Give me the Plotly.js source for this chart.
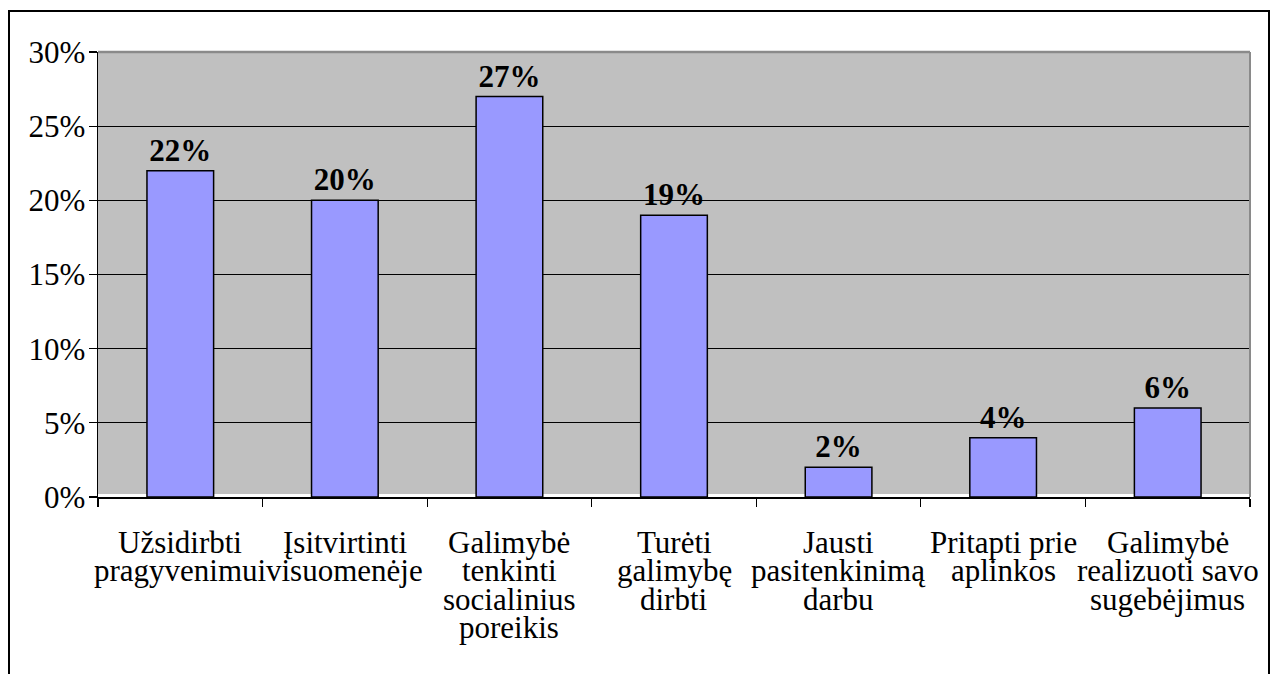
<!DOCTYPE html>
<html>
<head>
<meta charset="utf-8">
<script src="https://cdn.plot.ly/plotly-3.0.1.min.js"></script>
<style>
  html, body { margin: 0; padding: 0; background: #ffffff; }
  #wrap { position: relative; width: 1274px; height: 674px; }
  #chart { position: absolute; left: 0; top: 0; width: 1274px; height: 674px; }
  #frame { position: absolute; left: 8px; top: 10px; width: 1258px; height: 700px;
           border: 2.5px solid #000; pointer-events: none; }
</style>
</head>
<body>
<div id="wrap">
  <div id="chart"></div>
  <div id="frame"></div>
</div>
<script>
const categories = [
  "Užsidirbti\npragyvenimui",
  "Įsitvirtinti\nvisuomenėje",
  "Galimybė\ntenkinti\nsocialinius\nporeikis",
  "Turėti\ngalimybę\ndirbti",
  "Jausti\npasitenkinimą\ndarbu",
  "Pritapti prie\naplinkos",
  "Galimybė\nrealizuoti savo\nsugebėjimus"
];
const values = [22, 20, 27, 19, 2, 4, 6];
const yTicks = [0, 5, 10, 15, 20, 25, 30];

const FONT = "'Liberation Serif', 'Times New Roman', serif";
const catIds = categories.map((c, i) => "c" + i);

const trace = {
  type: "bar",
  x: catIds,
  y: values,
  marker: { color: "#9999FF", line: { color: "#000000", width: 1.5 } },
  text: values.map(v => v + "%"),
  textposition: "outside",
  textfont: { family: FONT, size: 31, color: "#000000", weight: "bold" },
  texttemplate: "<b>%{text}</b>",
  cliponaxis: false,
  hoverinfo: "none"
};

// Category label lines as annotations (tight line spacing like the original)
const annotations = [];
categories.forEach((label, i) => {
  label.split("\n").forEach((line, j) => {
    annotations.push({
      x: catIds[i], xref: "x",
      y: 0, yref: "paper",
      yanchor: "middle", xanchor: "center",
      yshift: -45.5 - 28.4 * j,
      text: line,
      showarrow: false,
      font: { family: FONT, size: 31, color: "#000000" }
    });
  });
});

const layout = {
  width: 1274, height: 674,
  margin: { l: 98, r: 24, t: 52, b: 177, pad: 0 },
  paper_bgcolor: "#ffffff",
  plot_bgcolor: "#C0C0C0",
  showlegend: false,
  bargap: 0.595,
  font: { family: FONT, color: "#000000" },
  xaxis: {
    type: "category",
    range: [-0.5, 6.5],
    autorange: false,
    showticklabels: false,
    ticks: "outside", tickson: "boundaries", ticklen: 8, tickwidth: 1.2, tickcolor: "#000000",
    showline: true, linecolor: "#000000", linewidth: 1.5,
    showgrid: false, zeroline: false, fixedrange: true
  },
  yaxis: {
    range: [0, 30],
    autorange: false,
    tickvals: yTicks,
    ticktext: yTicks.map(v => v + "%"),
    ticks: "outside", ticklen: 8, tickwidth: 1.2, tickcolor: "#000000",
    ticklabelstandoff: -3,
    tickfont: { family: FONT, size: 31, color: "#000000" },
    showline: true, linecolor: "#000000", linewidth: 1.5,
    showgrid: true, gridcolor: "#000000", gridwidth: 1,
    zeroline: false, fixedrange: true
  },
  annotations: annotations,
  shapes: [
    { type: "line", xref: "paper", yref: "paper", x0: 0, x1: 1, y0: 1, y1: 1,
      line: { color: "#8a8a8a", width: 2.5 }, layer: "above" },
    { type: "line", xref: "paper", yref: "paper", x0: 1, x1: 1, y0: 0, y1: 1,
      line: { color: "#8a8a8a", width: 2 }, layer: "above" },
    { type: "rect", xref: "paper", yref: "y", x0: 0, x1: 1, y0: 0, y1: 0.2,
      fillcolor: "#ffffff", line: { width: 0 }, layer: "below" }
  ]
};

Plotly.newPlot("chart", [trace], layout, { displayModeBar: false, staticPlot: true });
</script>
</body>
</html>
